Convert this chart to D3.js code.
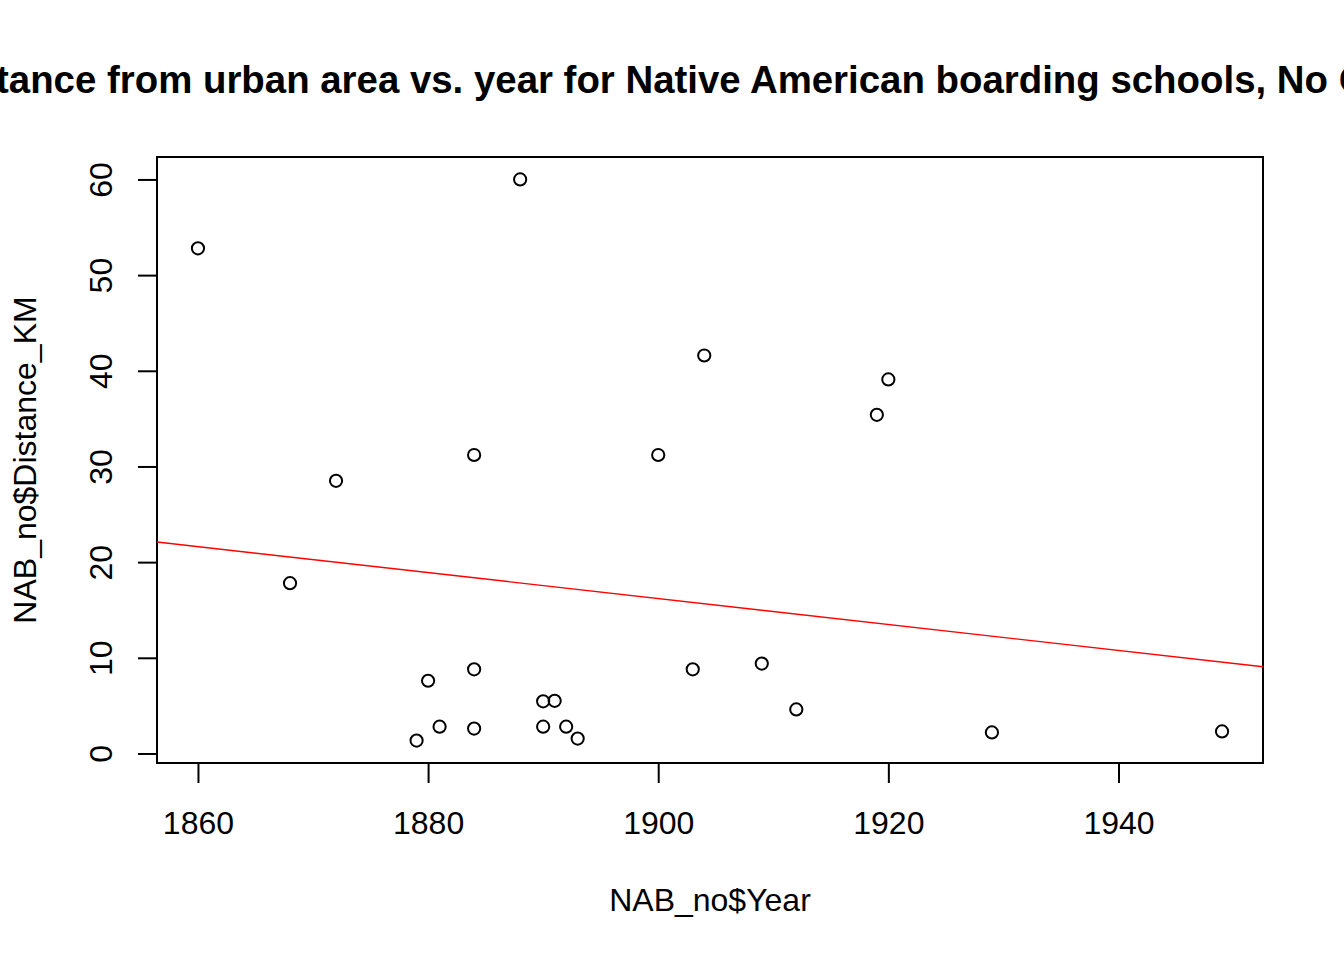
<!DOCTYPE html>
<html>
<head>
<meta charset="utf-8">
<script src="https://cdn.jsdelivr.net/npm/d3@7"></script>
<style>
  body { margin: 0; background: #fff; }
  text { font-family: "Liberation Sans", Arial, sans-serif; }
</style>
</head>
<body>
<div id="chart"></div>
<script>
// values
const years = [1860, 1888, 1872, 1868, 1884, 1884, 1884, 1880, 1879, 1881,
  1890, 1891, 1890, 1892, 1893, 1900, 1904, 1903, 1909, 1912, 1919, 1920, 1929, 1949];
const distances = [52.8, 60.0, 28.5, 17.8, 31.2, 8.8, 2.6, 7.6, 1.35, 2.8,
  5.45, 5.5, 2.8, 2.8, 1.56, 31.2, 41.6, 8.8, 9.4, 4.6, 35.4, 39.1, 2.2, 2.3];

// fitted line (lm) read at the two ends of the plot region
const fitYears = [1856.44, 1952.56];
const fitDistances = [22.1, 9.07];

const xTicks = [1860, 1880, 1900, 1920, 1940];
const yTicks = [0, 10, 20, 30, 40, 50, 60];

const titleText = "Distance from urban area vs. year for Native American boarding schools, No Outliers";
const xLabel = "NAB_no$Year";
const yLabel = "NAB_no$Distance_KM";

const width = 1344, height = 960;
const plotLeft = 157, plotRight = 1263, plotTop = 157, plotBottom = 763;

// R style axis range: data range plus 4% each side
function pad(ext) {
  let d = (ext[1] - ext[0]) * 0.04;
  return [ext[0] - d, ext[1] + d];
}

let x = d3.scaleLinear().domain(pad(d3.extent(years))).range([plotLeft, plotRight]);
let y = d3.scaleLinear().domain(pad(d3.extent(distances))).range([plotBottom, plotTop]);

let svg = d3.select("#chart").append("svg")
  .attr("width", width).attr("height", height);

svg.append("rect").attr("width", width).attr("height", height).attr("fill", "#fff");

// main title is centred over the plot region, like R does
svg.append("text")
  .attr("x", (plotLeft + plotRight) / 2).attr("y", 93)
  .attr("text-anchor", "middle")
  .attr("font-size", 38.4).attr("font-weight", "bold")
  .text(titleText);

// x axis
let xAxis = svg.append("g")
  .attr("transform", `translate(0,${plotBottom})`)
  .call(d3.axisBottom(x).tickValues(xTicks).tickSize(20).tickPadding(28).tickFormat(d3.format("d")));
xAxis.select(".domain").attr("d", `M${x(xTicks[0])},0H${x(xTicks[xTicks.length - 1])}`)
  .attr("stroke-width", 2);
xAxis.selectAll(".tick line").attr("stroke-width", 2);
xAxis.selectAll(".tick text").attr("font-size", 32).attr("font-family", "Liberation Sans, Arial, sans-serif")
  .attr("fill", "#000");

// y axis
let yAxis = svg.append("g")
  .attr("transform", `translate(${plotLeft},0)`)
  .call(d3.axisLeft(y).tickValues(yTicks).tickSize(19).tickFormat(d3.format("d")));
yAxis.select(".domain").attr("d", `M0,${y(yTicks[0])}V${y(yTicks[yTicks.length - 1])}`)
  .attr("stroke-width", 2);
yAxis.selectAll(".tick line").attr("stroke-width", 2);
yAxis.selectAll(".tick text")
  .attr("x", null).attr("dy", null)
  .attr("transform", "translate(-45,0) rotate(-90)")
  .attr("text-anchor", "middle")
  .attr("font-size", 32).attr("font-family", "Liberation Sans, Arial, sans-serif")
  .attr("fill", "#000");

// frame
svg.append("rect")
  .attr("x", plotLeft).attr("y", plotTop)
  .attr("width", plotRight - plotLeft).attr("height", plotBottom - plotTop)
  .attr("fill", "none").attr("stroke", "#000").attr("stroke-width", 2);

// fit line
svg.append("clipPath").attr("id", "plotclip")
  .append("rect").attr("x", plotLeft).attr("y", plotTop)
  .attr("width", plotRight - plotLeft).attr("height", plotBottom - plotTop);

let line = d3.line().x(d => x(d[0])).y(d => y(d[1]));
svg.append("path")
  .datum(fitYears.map((yr, i) => [yr, fitDistances[i]]))
  .attr("clip-path", "url(#plotclip)")
  .attr("d", line)
  .attr("fill", "none").attr("stroke", "#ff0000").attr("stroke-width", 1.4);

// points
svg.append("g").selectAll("circle")
  .data(years.map((yr, i) => ({ year: yr, dist: distances[i] })))
  .join("circle")
  .attr("cx", d => x(d.year))
  .attr("cy", d => y(d.dist))
  .attr("r", 6.1)
  .attr("fill", "none").attr("stroke", "#000").attr("stroke-width", 2);

// axis labels
svg.append("text")
  .attr("x", (plotLeft + plotRight) / 2).attr("y", 911)
  .attr("text-anchor", "middle").attr("font-size", 32)
  .text(xLabel);

svg.append("text")
  .attr("transform", `translate(36,${(plotTop + plotBottom) / 2}) rotate(-90)`)
  .attr("text-anchor", "middle").attr("font-size", 32)
  .text(yLabel);
</script>
</body>
</html>
